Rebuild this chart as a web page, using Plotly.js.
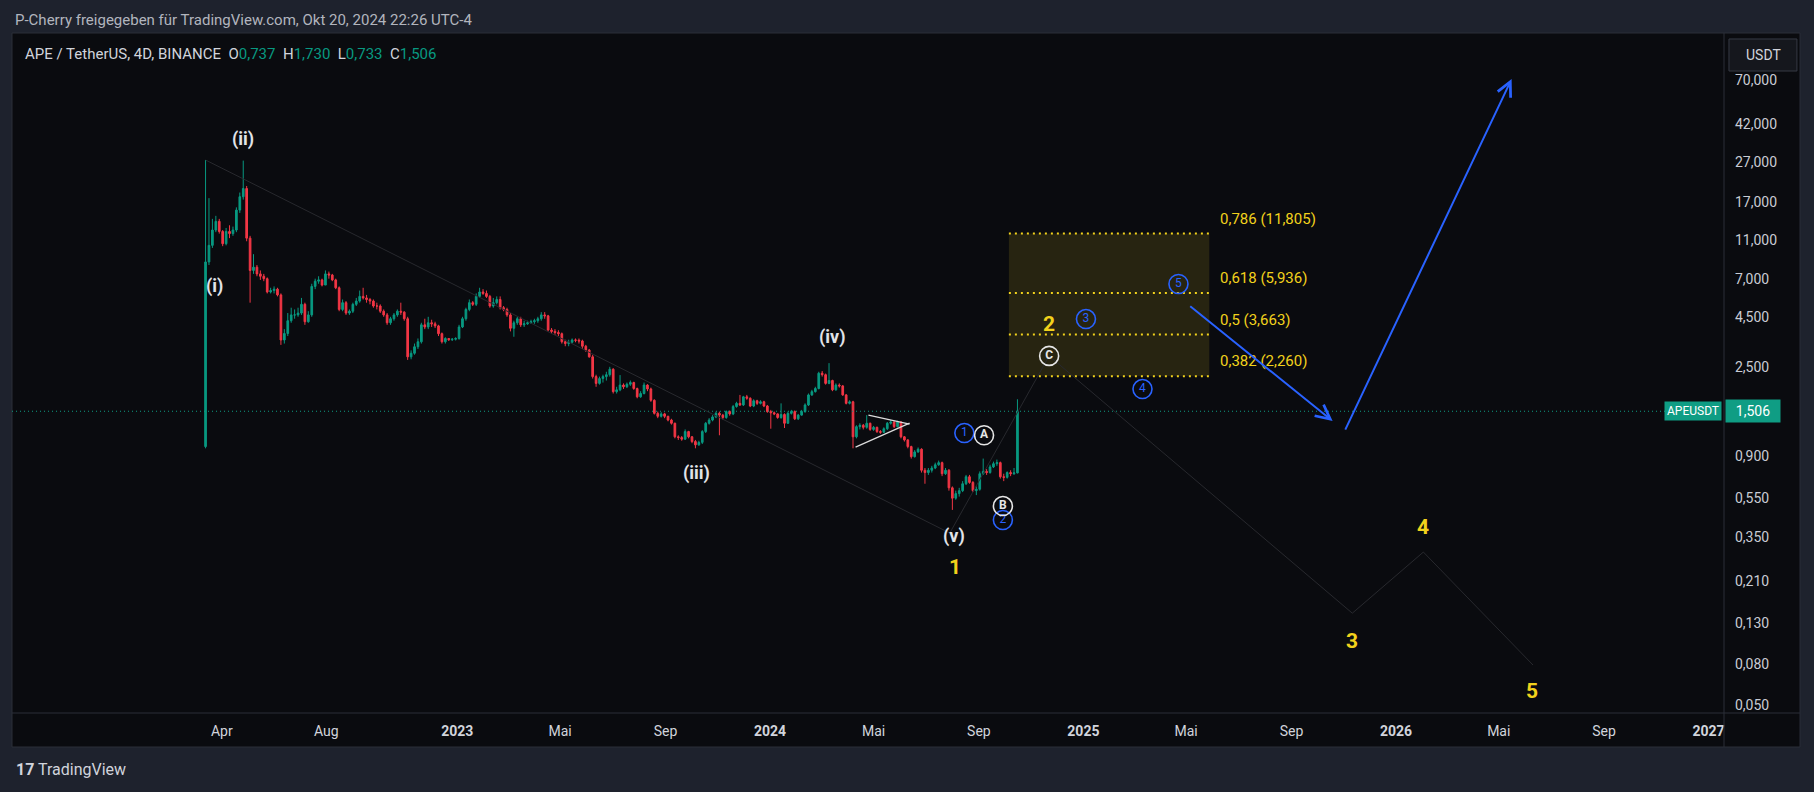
<!DOCTYPE html>
<html><head><meta charset="utf-8">
<script src="https://cdn.plot.ly/plotly-3.0.1.min.js"></script>
<style>html,body{margin:0;padding:0;background:#1e222d;overflow:hidden}#chart{width:1814px;height:792px}</style>
</head><body><div id="chart"></div>
<script>
// ---------- DATA ----------
const candleStart = '2022-03-13';   // first 4D bar
const candleStepDays = 4;
const firstOpen = 1.0;
const closes = [
8.5,10.3,12.3,13.6,12.1,10.5,12.1,11.8,12.3,15.5,
18.1,19.9,11.2,7.7,8.0,7.4,7.2,7.0,6.0,6.1,
6.2,5.8,3.44,3.71,4.3,4.6,4.6,4.7,5.2,4.25,
4.6,6.4,6.8,6.9,6.5,7.4,7.3,6.9,6.3,4.9,
5.3,4.7,4.8,5.2,5.4,5.7,5.6,5.5,5.4,5.1,
5.1,4.8,4.6,4.2,4.4,4.6,4.8,4.75,4.4,2.83,
2.95,3.18,3.37,4.1,4.0,4.2,4.15,4.05,3.7,3.37,
3.5,3.45,3.47,3.5,4.0,4.4,4.9,5.3,5.2,5.7,
6.0,5.9,5.7,5.1,5.3,5.5,5.0,4.9,4.6,3.94,
4.2,4.4,4.1,4.15,4.2,4.25,4.3,4.4,4.6,4.55,
3.86,3.8,3.75,3.7,3.37,3.3,3.35,3.44,3.43,3.4,
3.2,3.06,2.83,2.25,2.08,2.2,2.25,2.3,2.45,1.89,
1.93,2.04,2.0,2.06,2.1,1.96,1.78,1.85,2.04,1.95,
1.71,1.47,1.42,1.46,1.42,1.36,1.31,1.12,1.11,1.09,
1.19,1.12,1.06,1.02,1.05,1.19,1.31,1.36,1.41,1.47,
1.44,1.4,1.5,1.46,1.59,1.65,1.62,1.78,1.75,1.6,
1.7,1.65,1.68,1.6,1.5,1.48,1.46,1.4,1.45,1.31,
1.47,1.5,1.38,1.44,1.5,1.62,1.82,1.89,1.96,2.34,
2.3,2.08,2.15,1.93,2.04,2.02,1.82,1.65,1.68,1.12,
1.26,1.28,1.25,1.31,1.22,1.25,1.19,1.18,1.23,1.31,
1.33,1.26,1.33,1.12,1.08,1.0,0.89,0.94,0.97,0.76,
0.74,0.76,0.78,0.81,0.83,0.73,0.76,0.62,0.55,0.58,
0.6,0.65,0.705,0.66,0.6,0.61,0.73,0.75,0.74,0.79,
0.82,0.83,0.705,0.7,0.74,0.73,0.737,1.506];
const highs = [
27.7,17.8,14.0,14.5,14.0,12.3,12.6,13.0,12.8,16.0,
19.0,27.5,20.5,11.5,9.3,8.2,7.7,7.4,7.1,6.3,
6.4,6.3,5.9,3.9,4.7,5.0,4.9,5.0,5.6,5.3,
4.8,6.6,7.0,7.2,7.0,7.7,7.6,7.4,7.0,6.4,
5.5,5.4,4.9,5.3,5.6,6.1,6.3,5.8,5.6,5.5,
5.3,5.2,4.9,4.7,4.5,4.7,4.9,5.3,4.8,4.5,
3.05,3.3,3.5,4.2,4.4,4.5,4.35,4.25,4.1,3.75,
3.55,3.52,3.52,3.55,4.1,4.5,5.0,5.5,5.4,5.9,
6.3,6.2,6.1,5.8,5.6,5.7,5.7,5.1,5.0,4.7,
4.3,4.5,4.5,4.3,4.3,4.35,4.4,4.5,4.75,4.75,
4.6,3.95,3.9,3.85,3.75,3.45,3.45,3.5,3.5,3.5,
3.45,3.25,3.1,2.9,2.3,2.25,2.3,2.38,2.52,2.48,
2.0,2.29,2.08,2.1,2.15,2.12,1.98,1.9,2.1,2.06,
1.98,1.73,1.5,1.49,1.48,1.43,1.38,1.32,1.14,1.13,
1.22,1.2,1.13,1.08,1.07,1.21,1.33,1.39,1.44,1.5,
1.5,1.46,1.52,1.52,1.62,1.68,1.82,1.8,1.82,1.77,
1.73,1.72,1.71,1.7,1.62,1.53,1.5,1.47,1.65,1.47,
1.5,1.53,1.52,1.46,1.53,1.65,1.85,1.93,2.0,2.38,
2.4,2.33,2.63,2.17,2.08,2.08,2.04,1.84,1.71,1.7,
1.28,1.31,1.3,1.44,1.32,1.27,1.26,1.21,1.25,1.33,
1.36,1.34,1.35,1.34,1.13,1.09,1.01,0.96,0.99,0.98,
0.78,0.78,0.8,0.83,0.85,0.84,0.78,0.77,0.63,0.6,
0.62,0.67,0.72,0.72,0.67,0.63,0.75,0.87,0.77,0.81,
0.84,0.86,0.84,0.73,0.75,0.76,0.78,1.73];
const lows = [
0.98,8.2,10.0,12.0,11.8,10.2,10.3,11.2,11.5,12.0,
15.0,17.5,10.8,5.3,7.4,7.2,6.9,6.8,5.9,5.9,
5.9,5.7,3.25,3.3,3.6,4.2,4.4,4.5,4.6,4.1,
4.2,4.5,6.2,6.6,6.4,6.5,7.0,6.8,6.2,4.8,
4.8,4.6,4.6,4.7,5.1,5.3,5.5,5.3,5.2,5.0,
4.9,4.7,4.5,4.1,4.1,4.3,4.5,4.6,4.3,2.73,
2.75,2.9,3.1,3.3,3.9,3.9,4.0,3.95,3.6,3.3,
3.3,3.4,3.4,3.42,3.45,3.95,4.3,4.8,5.1,5.1,
5.6,5.8,5.6,5.0,5.0,5.2,4.9,4.8,4.5,3.8,
3.57,4.1,4.0,4.0,4.1,4.15,4.15,4.2,4.3,4.4,
3.8,3.7,3.65,3.6,3.3,3.2,3.2,3.3,3.35,3.3,
3.1,3.0,2.8,2.2,2.0,2.05,2.1,2.15,2.25,1.85,
1.85,1.9,1.95,1.97,2.02,1.93,1.75,1.76,1.83,1.9,
1.68,1.45,1.39,1.4,1.39,1.34,1.29,1.1,1.08,1.07,
1.08,1.1,1.04,0.98,1.01,1.03,1.17,1.29,1.34,1.39,
1.14,1.37,1.38,1.43,1.44,1.57,1.6,1.6,1.72,1.58,
1.58,1.62,1.63,1.58,1.48,1.23,1.44,1.38,1.38,1.24,
1.3,1.45,1.36,1.36,1.43,1.48,1.6,1.8,1.87,1.94,
2.25,2.05,2.06,1.9,1.91,1.98,1.8,1.63,1.63,0.98,
1.1,1.22,1.22,1.23,1.2,1.2,1.17,1.16,1.17,1.21,
1.29,1.24,1.25,1.1,1.06,0.98,0.87,0.88,0.93,0.74,
0.65,0.72,0.74,0.77,0.8,0.71,0.72,0.6,0.48,0.54,
0.56,0.59,0.64,0.65,0.59,0.57,0.6,0.72,0.72,0.73,
0.78,0.8,0.69,0.67,0.69,0.71,0.72,0.733];

const yTickVals = [70,42,27,17,11,7,4.5,2.5,0.9,0.55,0.35,0.21,0.13,0.08,0.05];
const xTickVals = ['2022-04-01','2022-08-01','2023-01-01','2023-05-01','2023-09-01','2024-01-01','2024-05-01','2024-09-01','2025-01-01','2025-05-01','2025-09-01','2026-01-01','2026-05-01','2026-09-01','2027-01-01'];
const xTickText = ['Apr','Aug','<b>2023</b>','Mai','Sep','<b>2024</b>','Mai','Sep','<b>2025</b>','Mai','Sep','<b>2026</b>','Mai','Sep','<b>2027</b>'];

// Fibonacci retracement box
const fibRatios = [0.382, 0.5, 0.618, 0.786];
const fibPrices = [2.260, 3.663, 5.936, 11.805];
const fibStart = '2024-10-06', fibEnd = '2025-05-28', fibLabelX = '2025-06-07';

// Elliott labels (white, minor degree)
const minorText = ['(i)','(ii)','(iii)','(iv)','(v)'];
const minorDate = ['2022-03-23','2022-04-26','2023-10-07','2024-03-14','2024-08-03'];
const minorPrice = [6.43, 35.3, 0.736, 3.56, 0.354];
// yellow wave numbers
const majorText = ['1','2','3','4','5'];
const majorDate = ['2024-08-04','2024-11-22','2025-11-11','2026-02-02','2026-06-09'];
const majorPrice = [0.2475, 4.14, 0.105, 0.394, 0.0588];
// circled labels
const blueText = ['1','2','3','4','5'];
const blueDate = ['2024-08-15','2024-09-29','2025-01-04','2025-03-11','2025-04-22'];
const bluePrice = [1.17, 0.427, 4.385, 1.948, 6.58];
const whiteText = ['A','B','C'];
const whiteDate = ['2024-09-07','2024-09-29','2024-11-22'];
const whitePrice = [1.14, 0.502, 2.86];
// wave path (grey)
const pathDate = ['2022-03-13','2024-07-29','2024-11-22','2025-11-11','2026-02-02','2026-06-10'];
const pathPrice = [27.7, 0.367, 2.86, 0.145, 0.2945, 0.0795];
// triangle
const triDate = ['2024-04-25','2024-06-12',null,'2024-04-10','2024-06-12'];
const triPrice = [1.441, 1.298, null, 0.994, 1.313];
// blue arrows [tail -> head]
const arrowTailDate = ['2025-05-04','2025-11-02'];
const arrowTailPrice = [5.16, 1.197];
const arrowHeadDate = ['2025-10-19','2026-05-16'];
const arrowHeadPrice = [1.344, 70.8];

// ---------- BUILD ----------
const FONT = 'Roboto, "Noto Sans", "DejaVu Sans", sans-serif';
const UP = '#089981', DOWN = '#f23645', TEAL = '#0f9d84', YEL = '#f2d21c', BLUE = '#2962ff';
const PANE = '#0a0b0f', OUTER = '#1e222d', BORDER = '#2a2e39';
const fmt = v => v.toFixed(3).replace('.', ',');
const lg = v => Math.log10(v);

const t0 = Date.parse(candleStart + 'T00:00:00Z');
const dates = closes.map((_, i) => new Date(t0 + i * candleStepDays * 86400000).toISOString().slice(0, 10));
const opens = closes.map((c, i) => i === 0 ? firstOpen : closes[i - 1]);
const N = closes.length;
const lastC = closes[N-1];

const X0 = '2021-07-30', X1 = '2027-01-19';
const Y0 = 0.0456, Y1 = 120.7;

const traces = [];
traces.push({type:'scatter', mode:'lines', x:[fibStart,fibEnd,fibEnd,fibStart,fibStart],
  y:[fibPrices[0],fibPrices[0],fibPrices[3],fibPrices[3],fibPrices[0]],
  fill:'toself', fillcolor:'rgba(240,212,28,0.13)', line:{width:0}, hoverinfo:'skip'});
traces.push({type:'scatter', mode:'lines', x:[X0,X1], y:[lastC,lastC],
  line:{color:TEAL, width:1, dash:'1px,3px'}, hoverinfo:'skip'});
traces.push({type:'candlestick', x:dates, open:opens, high:highs, low:lows, close:closes,
  increasing:{line:{color:UP,width:1}, fillcolor:UP},
  decreasing:{line:{color:DOWN,width:1}, fillcolor:DOWN},
  whiskerwidth:0, hoverinfo:'skip'});
fibPrices.forEach(p => traces.push({type:'scatter', mode:'lines', x:[fibStart,fibEnd], y:[p,p],
  line:{color:YEL, width:2, dash:'2px,4px'}, hoverinfo:'skip'}));
traces.push({type:'scatter', mode:'lines', x:pathDate, y:pathPrice,
  line:{color:'#28292e', width:1}, hoverinfo:'skip'});
traces.push({type:'scatter', mode:'lines', x:triDate, y:triPrice, connectgaps:false,
  line:{color:'#dcdcdc', width:1.2}, hoverinfo:'skip'});
traces.push({type:'scatter', mode:'markers+text', x:blueDate, y:bluePrice, text:blueText,
  textposition:'middle center', textfont:{family:FONT, size:12, color:BLUE},
  marker:{symbol:'circle', size:19, color:'rgba(0,0,0,0)', line:{color:BLUE, width:1.6}}, hoverinfo:'skip'});
traces.push({type:'scatter', mode:'markers+text', x:whiteDate, y:whitePrice, text:whiteText,
  textposition:'middle center', textfont:{family:FONT, size:12, color:'#e6e6e6', weight:'bold'},
  marker:{symbol:'circle', size:19, color:'rgba(0,0,0,0)', line:{color:'#e6e6e6', width:1.6}}, hoverinfo:'skip'});

const ann = [];
ann.push({xref:'paper', yref:'paper', x:0.0006, y:1.0191, xanchor:'left', yanchor:'middle', showarrow:false,
  text:'P-Cherry freigegeben für TradingView.com, Okt 20, 2024 22:26 UTC-4', font:{family:FONT, size:15, color:'#b2b5be'}});
const g = v => '<span style="color:'+UP+'">'+fmt(v)+'</span>';
ann.push({xref:'paper', yref:'paper', x:0.0064, y:0.9691, xanchor:'left', yanchor:'middle', showarrow:false,
  text:'APE / TetherUS, 4D, BINANCE&nbsp;&nbsp;O'+g(opens[N-1])+'&nbsp;&nbsp;H'+g(highs[N-1])+'&nbsp;&nbsp;L'+g(lows[N-1])+'&nbsp;&nbsp;C'+g(lastC),
  font:{family:FONT, size:15, color:'#d1d4dc'}});
ann.push({xref:'paper', yref:'paper', x:1.0228, y:0.9677, xanchor:'center', yanchor:'middle', showarrow:false,
  text:'USDT', font:{family:FONT, size:14, color:'#d1d4dc'}});
ann.push({xref:'paper', yref:'y', x:0.9988, y:lg(lastC), xanchor:'right', yanchor:'middle', showarrow:false,
  text:'APEUSDT', bgcolor:TEAL, borderpad:2, font:{family:FONT, size:12, color:'#ffffff'}});
ann.push({xref:'paper', yref:'y', x:1.0006, y:lg(lastC), xanchor:'left', yanchor:'middle', showarrow:false,
  text:fmt(lastC), bgcolor:TEAL, borderpad:3, width:48, font:{family:FONT, size:14, color:'#ffffff'}});
ann.push({xref:'paper', yref:'paper', x:0.0012, y:-0.0824, xanchor:'left', yanchor:'middle', showarrow:false,
  text:'<b>17</b> TradingView', font:{family:FONT, size:16, color:'#d1d4dc'}});
fibRatios.forEach((r, i) => ann.push({x:fibLabelX, y:lg(fibPrices[i]), xanchor:'left', yanchor:'middle', yshift:15,
  showarrow:false, text:String(r).replace('.', ',')+' ('+fmt(fibPrices[i])+')', font:{family:FONT, size:15, color:YEL}}));
minorText.forEach((t, i) => ann.push({x:minorDate[i], y:lg(minorPrice[i]), showarrow:false, text:'<b>'+t+'</b>',
  font:{family:FONT, size:18, color:'#e1e3e8'}}));
majorText.forEach((t, i) => ann.push({x:majorDate[i], y:lg(majorPrice[i]), showarrow:false, text:'<b>'+t+'</b>',
  font:{family:FONT, size:21, color:YEL}}));
arrowTailDate.forEach((d, i) => ann.push({x:arrowHeadDate[i], y:lg(arrowHeadPrice[i]), ax:d, ay:lg(arrowTailPrice[i]),
  axref:'x', ayref:'y', showarrow:true, text:'', arrowhead:5, arrowsize:1.4, arrowwidth:2, arrowcolor:BLUE, standoff:0, startstandoff:0}));

const shapes = [
  {type:'rect', xref:'paper', yref:'paper', x0:0, x1:1.04439, y0:-0.05, y1:1, fillcolor:PANE, line:{color:BORDER, width:1}, layer:'below'},
  {type:'line', xref:'paper', yref:'paper', x0:0, x1:1.04439, y0:0, y1:0, line:{color:BORDER, width:1}},
  {type:'line', xref:'paper', yref:'paper', x0:1, x1:1, y0:-0.05, y1:1, line:{color:BORDER, width:1}},
  {type:'rect', xref:'paper', yref:'paper', x0:1.0029, x1:1.0426, y0:0.9441, y1:0.9912, fillcolor:'#15171d', line:{color:'#363a45', width:1}}
];

const layout = {
  width:1814, height:792,
  margin:{l:12, r:90, t:33, b:79},
  paper_bgcolor:OUTER, plot_bgcolor:PANE,
  showlegend:false, hovermode:false,
  font:{family:FONT, color:'#d1d4dc'},
  xaxis:{type:'date', range:[X0,X1], showgrid:false, zeroline:false, rangeslider:{visible:false},
    tickmode:'array', tickvals:xTickVals, ticktext:xTickText, ticks:'', ticklabelstandoff:8,
    tickfont:{family:FONT, size:14, color:'#d1d4dc'}, showline:false, fixedrange:true},
  yaxis:{type:'log', side:'right', range:[lg(Y0), lg(Y1)], showgrid:false, zeroline:false,
    tickmode:'array', tickvals:yTickVals, ticktext:yTickVals.map(fmt), ticks:'', ticklabelstandoff:10,
    tickfont:{family:FONT, size:14, color:'#c9ccd4'}, showline:false, fixedrange:true},
  shapes:shapes, annotations:ann
};

Plotly.newPlot('chart', traces, layout, {displayModeBar:false, staticPlot:true});
</script></body></html>
